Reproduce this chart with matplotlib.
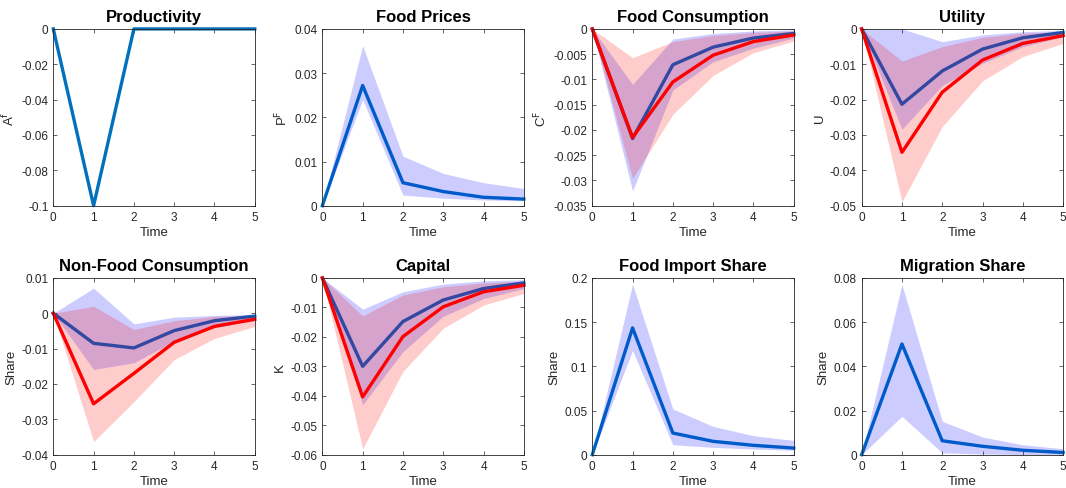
import matplotlib
matplotlib.use("Agg")
import matplotlib.pyplot as plt
from matplotlib.ticker import FuncFormatter
import numpy as np

plt.rcParams["font.family"] = ["Liberation Sans", "DejaVu Sans"]
plt.rcParams["axes.unicode_minus"] = False

time = [0, 1, 2, 3, 4, 5]

# Productivity shock
prod = [0, -0.1, 0, 0, 0, 0]

# Food prices
pf_mid = [0, 0.0272, 0.0052, 0.0032, 0.0019, 0.0015]
pf_hi = [0, 0.0362, 0.0112, 0.0073, 0.0052, 0.0039]
pf_lo = [0, 0.0240, 0.0024, 0.0017, 0.0013, 0.0011]

# Food consumption (blue and red scenarios)
cf_b_mid = [0, -0.0217, -0.0071, -0.0036, -0.0018, -0.0009]
cf_b_hi = [0, -0.0110, -0.0020, -0.0009, -0.0004, -0.0002]
cf_b_lo = [0, -0.0321, -0.0121, -0.0065, -0.0038, -0.0018]
cf_r_mid = [0, -0.0215, -0.0105, -0.0052, -0.0025, -0.0012]
cf_r_hi = [0, -0.0057, -0.0025, -0.0013, -0.0007, -0.0004]
cf_r_lo = [0, -0.0296, -0.0169, -0.0092, -0.0047, -0.0024]

# Utility
u_b_mid = [0, -0.0213, -0.0119, -0.0057, -0.0025, -0.0010]
u_b_hi = [0, 0.0, -0.0036, -0.0017, -0.0008, -0.0004]
u_b_lo = [0, -0.0284, -0.0160, -0.0097, -0.0050, -0.0022]
u_r_mid = [0, -0.0349, -0.0179, -0.0088, -0.0041, -0.0019]
u_r_hi = [0, -0.0091, -0.0050, -0.0024, -0.0012, -0.0008]
u_r_lo = [0, -0.0489, -0.0276, -0.0147, -0.0078, -0.0041]

# Non-food consumption
nf_b_mid = [0, -0.0085, -0.0098, -0.0049, -0.0021, -0.0008]
nf_b_hi = [0, 0.0071, -0.0030, -0.0011, -0.0006, -0.0004]
nf_b_lo = [0, -0.0159, -0.0140, -0.0079, -0.0041, -0.0020]
nf_r_mid = [0, -0.0256, -0.0170, -0.0082, -0.0037, -0.0017]
nf_r_hi = [0, 0.0020, -0.0046, -0.0021, -0.0009, -0.0006]
nf_r_lo = [0, -0.0363, -0.0250, -0.0131, -0.0071, -0.0037]

# Capital
k_b_mid = [0, -0.0300, -0.0148, -0.0075, -0.0036, -0.0017]
k_b_hi = [0, -0.0106, -0.0047, -0.0021, -0.0010, -0.0006]
k_b_lo = [0, -0.0430, -0.0250, -0.0130, -0.0070, -0.0036]
k_r_mid = [0, -0.0404, -0.0199, -0.0098, -0.0047, -0.0025]
k_r_hi = [0, -0.0129, -0.0058, -0.0030, -0.0017, -0.0011]
k_r_lo = [0, -0.0580, -0.0317, -0.0171, -0.0092, -0.0053]

# Food import share
fi_mid = [0, 0.1434, 0.0245, 0.0151, 0.0106, 0.0075]
fi_hi = [0, 0.1930, 0.0517, 0.0320, 0.0215, 0.0162]
fi_lo = [0, 0.1180, 0.0113, 0.0083, 0.0064, 0.0050]

# Migration share
mg_mid = [0, 0.0501, 0.0063, 0.0038, 0.0020, 0.0010]
mg_hi = [0, 0.0770, 0.0151, 0.0080, 0.0045, 0.0027]
mg_lo = [0, 0.0174, 0.0008, 0.0003, 0.0001, 0.0000]

MBLUE = (0, 0.447, 0.741)
FILL_B = (0, 0, 1)
FILL_R = (1, 0, 0)
TXT = "#262626"

fig = plt.figure(figsize=(10.66, 4.89), dpi=100)
lefts = [0.0500, 0.3024, 0.5556, 0.8083]
bottoms = [0.5773, 0.0681]
W, H = 0.189, 0.3615


def fmt(v, pos):
    s = "%g" % round(v, 6)
    return "0" if s in ("-0", "0") else s


def style(ax, title, ylabel, ylim, yticks):
    ax.set_xlim(0, 5)
    ax.set_ylim(*ylim)
    ax.set_xticks(time)
    ax.set_yticks(yticks)
    ax.yaxis.set_major_formatter(FuncFormatter(fmt))
    ax.set_title(title, fontsize=12, fontweight="bold", pad=6, color="black")
    ax.set_xlabel("Time", fontsize=9.5, color=TXT, labelpad=2.5)
    ax.set_ylabel(ylabel, fontsize=9.5, color=TXT, labelpad=3)
    ax.tick_params(direction="in", length=3, width=0.5, labelsize=8.5,
                   colors=TXT, top=True, right=True, pad=3.5)
    for s in ax.spines.values():
        s.set_color(TXT)
        s.set_linewidth(0.6)
        s.set_zorder(5)


def single(ax, mid, lo=None, hi=None):
    ax.plot(time, mid, color=MBLUE, lw=2.4, clip_on=False, zorder=2)
    if lo is not None:
        ax.fill_between(time, lo, hi, color=FILL_B, alpha=0.2, lw=0,
                        zorder=2.1)


def double(ax, bm, blo, bhi, rm, rlo, rhi):
    # drawing order: blue line, blue band, red line, red band
    ax.plot(time, bm, color=MBLUE, lw=2.4, clip_on=False, zorder=2)
    ax.fill_between(time, blo, bhi, color=FILL_B, alpha=0.2, lw=0, zorder=2.1)
    ax.plot(time, rm, color=FILL_R, lw=2.4, clip_on=False, zorder=2.2)
    ax.fill_between(time, rlo, rhi, color=FILL_R, alpha=0.2, lw=0, zorder=2.3)


axes = [[fig.add_axes([l, b, W, H]) for l in lefts] for b in bottoms]

ax = axes[0][0]
single(ax, prod)
style(ax, "Productivity", r"A$^{\rm f}$", (-0.1, 0), np.arange(-0.1, 0.001, 0.02))

ax = axes[0][1]
single(ax, pf_mid, pf_lo, pf_hi)
style(ax, "Food Prices", r"P$^{\rm F}$", (0, 0.04), np.arange(0, 0.0401, 0.01))

ax = axes[0][2]
double(ax, cf_b_mid, cf_b_lo, cf_b_hi, cf_r_mid, cf_r_lo, cf_r_hi)
style(ax, "Food Consumption", r"C$^{\rm F}$", (-0.035, 0),
      np.arange(-0.035, 0.0001, 0.005))

ax = axes[0][3]
double(ax, u_b_mid, u_b_lo, u_b_hi, u_r_mid, u_r_lo, u_r_hi)
style(ax, "Utility", "U", (-0.05, 0), np.arange(-0.05, 0.0001, 0.01))

ax = axes[1][0]
double(ax, nf_b_mid, nf_b_lo, nf_b_hi, nf_r_mid, nf_r_lo, nf_r_hi)
style(ax, "Non-Food Consumption", "Share", (-0.04, 0.01),
      np.arange(-0.04, 0.0101, 0.01))

ax = axes[1][1]
double(ax, k_b_mid, k_b_lo, k_b_hi, k_r_mid, k_r_lo, k_r_hi)
style(ax, "Capital", "K", (-0.06, 0), np.arange(-0.06, 0.0001, 0.01))

ax = axes[1][2]
single(ax, fi_mid, fi_lo, fi_hi)
style(ax, "Food Import Share", "Share", (0, 0.2), np.arange(0, 0.2001, 0.05))

ax = axes[1][3]
single(ax, mg_mid, mg_lo, mg_hi)
style(ax, "Migration Share", "Share", (0, 0.08), np.arange(0, 0.0801, 0.02))

fig.savefig("out.png", dpi=100)
